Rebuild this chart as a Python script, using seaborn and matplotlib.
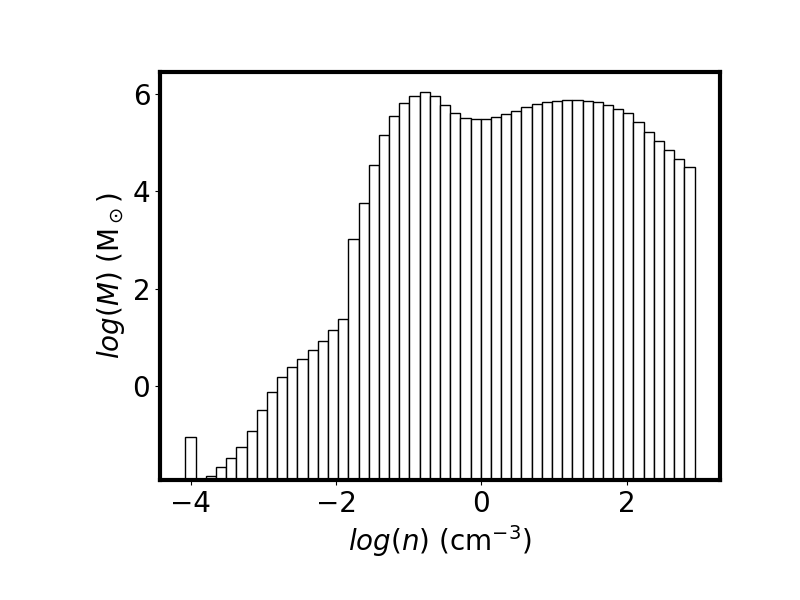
import numpy as np
import pandas as pd
import matplotlib
matplotlib.use("Agg")
import matplotlib.pyplot as plt
import seaborn as sns

# log(n) bin centres (bin width 0.14), bin at -3.86 is empty
bin_centres = [-4.00, -3.72, -3.58, -3.44, -3.30, -3.16, -3.02, -2.88, -2.74,
               -2.60, -2.46, -2.32, -2.18, -2.04, -1.90, -1.76, -1.62, -1.48,
               -1.34, -1.20, -1.06, -0.92, -0.78, -0.64, -0.50, -0.36, -0.22,
               -0.08, 0.06, 0.20, 0.34, 0.48, 0.62, 0.76, 0.90, 1.04, 1.18,
               1.32, 1.46, 1.60, 1.74, 1.88, 2.02, 2.16, 2.30, 2.44, 2.58,
               2.72, 2.86]

# log(M) per bin
log_mass = [-1.04, -1.84, -1.66, -1.47, -1.25, -0.92, -0.50, -0.13, 0.19,
            0.39, 0.55, 0.74, 0.92, 1.15, 1.38, 3.02, 3.75, 4.55, 5.15,
            5.54, 5.81, 5.96, 6.03, 5.96, 5.78, 5.61, 5.50, 5.48, 5.48,
            5.52, 5.59, 5.65, 5.73, 5.80, 5.83, 5.855, 5.87, 5.87, 5.855,
            5.83, 5.78, 5.69, 5.60, 5.42, 5.22, 5.04, 4.84, 4.66, 4.49]

floor = -3.0  # bars start below the visible axis

df = pd.DataFrame({"logn": bin_centres, "logM": log_mass})
df["height"] = df["logM"] - floor

fig, ax = plt.subplots(figsize=(8, 6), dpi=100)
fig.subplots_adjust(left=0.2, bottom=0.2, right=0.9, top=0.88)

sns.barplot(data=df, x="logn", y="height", native_scale=True, width=1,
            color="white", saturation=1, edgecolor="black", linewidth=1,
            errorbar=None, bottom=floor, ax=ax)

ax.set_xlim(-4.42, 3.28)
ax.set_ylim(-1.93, 6.45)
ax.set_xticks([-4, -2, 0, 2])
ax.set_yticks([0, 2, 4, 6])
ax.tick_params(labelsize=20)
ax.set_xlabel(r"$log(n)$ (cm$^{-3}$)", fontsize=20)
ax.set_ylabel(r"$log(M)$ (M$_\odot$)", fontsize=20)
for s in ax.spines.values():
    s.set_linewidth(3)

fig.savefig("out.png", dpi=100)
